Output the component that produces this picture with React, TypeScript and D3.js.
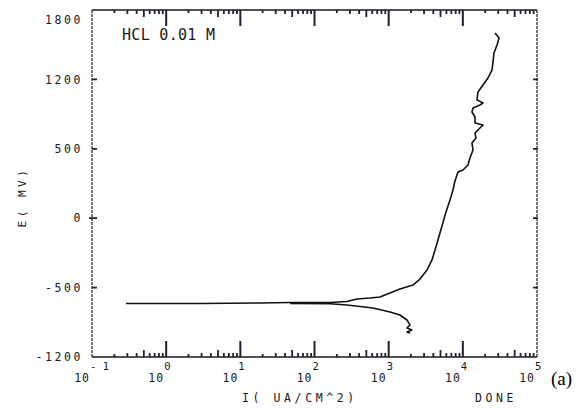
import React from "react";
import * as d3 from "d3";

// ---- data ----
const anodicCurrent = [0.287, 2.86, 18.4, 46.8, 162, 274, 374, 560, 764, 1042, 1422, 2128, 2642, 3289, 3837, 4217, 4920, 5929, 6714, 7362, 7834, 8604, 10050, 11720, 12470, 13710, 13270, 15030, 14590, 17020, 18700, 14590, 14590, 13270, 13710, 17020, 18700, 15520, 16000, 18700, 21830, 24720, 25530, 26300, 28910, 30760, 27160];
const anodicPotential = [-737, -737, -733, -729, -729, -720, -699, -690, -681, -647, -612, -578, -526, -448, -361, -275, -128, 54, 157, 244, 322, 400, 417, 460, 521, 590, 650, 693, 737, 780, 806, 823, 875, 918, 953, 979, 996, 1023, 1091, 1152, 1212, 1281, 1351, 1428, 1498, 1558, 1601];
const cathodicCurrent = [46.8, 162, 274, 615, 1042, 1422, 1766, 1936, 1766, 2061, 1766, 1936];
const cathodicPotential = [-738, -740, -750, -776, -811, -837, -880, -923, -949, -967, -984, -992];

const yTickValues = [-1200, -600, 0, 600, 1200, 1800];
const yTickLabels = ["-1200", "-500", "0", "500", "1200", "1800"];
const xExponents = [-1, 0, 1, 2, 3, 4, 5];
const xExponentLabels = ["- 1", "0", "1", "2", "3", "4", "5"];

const titleText = "HCL 0.01 M";
const xTitle = "I( UA/CM^2)";
const yTitle = "E( MV)";
const doneText = "DONE";
const panelText = "(a)";

const W = 583;
const H = 408;
const ink = "#1a1a1a";
const tickInk = "#202030";
const mono = "'DejaVu Sans Mono', monospace";

export default function App() {
  const x = d3.scaleLog().domain([0.1, 100000]).range([92, 537]);
  const y = d3.scaleLinear().domain([-1200, 1800]).range([357, 10]);
  const [x0, x1] = x.range();
  const [yb, yt] = y.range();

  const line = d3
    .line<[number, number]>()
    .x((d) => x(d[0]))
    .y((d) => y(d[1]))
    .curve(d3.curveLinear);

  const anodic = anodicCurrent.map((c, i) => [c, anodicPotential[i]] as [number, number]);
  const cathodic = cathodicCurrent.map((c, i) => [c, cathodicPotential[i]] as [number, number]);

  let tickD = "";
  xExponents.slice(1, -1).forEach((e) => {
    const px = x(Math.pow(10, e));
    tickD += `M${px},${yb}V${yb - 16}M${px},${yt}V${yt + 16}`;
  });
  let minorD = "";
  for (let e = -1; e < 5; e++) {
    for (let m = 2; m <= 9; m++) {
      const px = x(m * Math.pow(10, e));
      const l = m === 2 ? 3 : m === 5 ? 7 : 4;
      minorD += `M${px},${yb}V${yb - l}M${px},${yt}V${yt + l}`;
    }
  }
  let yD = "";
  yTickValues.slice(1, -1).forEach((v) => {
    const py = y(v);
    yD += `M${x0 - (v === 0 ? 3 : 0)},${py}H${x0 + 5}M${x1 - 4},${py}H${x1 + 1}`;
  });

  return (
    <svg width={W} height={H} style={{ position: "absolute", left: 0, top: 0, background: "#fff" }}>
      {/* axes frame */}
      <line x1={x0} x2={x1} y1={yb} y2={yb} stroke={ink} strokeWidth={1.3} />
      <line x1={x0} x2={x1} y1={yt} y2={yt} stroke={ink} strokeWidth={1.3} />
      <line x1={x0} x2={x0} y1={yt} y2={yb} stroke={ink} strokeWidth={1.2} strokeDasharray="3 1" />
      <line x1={x1} x2={x1} y1={yt} y2={yb} stroke={ink} strokeWidth={1.2} strokeDasharray="3 1" />

      <path d={tickD} fill="none" stroke={tickInk} strokeWidth={2} />
      <path d={minorD} fill="none" stroke={tickInk} strokeWidth={1.8} />
      <path d={yD} fill="none" stroke={tickInk} strokeWidth={1.8} />

      {/* y tick labels */}
      {yTickValues.map((v, i) => (
        <text
          key={"yl" + v}
          x={83}
          y={i === yTickValues.length - 1 ? 20 : y(v)}
          dy="0.36em"
          textAnchor="end"
          fontFamily={mono}
          fontSize={11.5}
          letterSpacing={2.6}
          fill={ink}
        >
          {yTickLabels[i]}
        </text>
      ))}

      {/* x tick labels 10^n */}
      {xExponents.map((e, i) => {
        const px = x(Math.pow(10, e));
        return (
          <g key={"xl" + e} fontFamily={mono} fill={ink}>
            <text x={px - 2} y={382} textAnchor="end" fontSize={11.5} letterSpacing={1}>
              10
            </text>
            <text x={px - 2} y={370} textAnchor="start" fontSize={10.5}>
              {xExponentLabels[i]}
            </text>
          </g>
        );
      })}

      {/* curves */}
      <path d={line(anodic) ?? ""} fill="none" stroke="#111" strokeWidth={1.6} strokeLinejoin="round" />
      <path d={line(cathodic) ?? ""} fill="none" stroke="#111" strokeWidth={1.6} strokeLinejoin="round" />

      {/* texts */}
      <text x={122} y={40} fontFamily={mono} fontSize={15} fill={ink} letterSpacing={0.3}>
        {titleText}
      </text>
      <text
        transform={`translate(26, ${197}) rotate(-90)`}
        textAnchor="middle"
        fontFamily={mono}
        fontSize={11}
        letterSpacing={3.5}
        fill={ink}
      >
        {yTitle}
      </text>
      <text x={242} y={402} fontFamily={mono} fontSize={11.5} letterSpacing={3.6} fill={ink}>
        {xTitle}
      </text>
      <text x={475} y={402} fontFamily={mono} fontSize={11.5} letterSpacing={3.6} fill={ink}>
        {doneText}
      </text>
      <text x={551} y={385} fontFamily="'Liberation Serif', 'Times New Roman', serif" fontSize={19} fill="#000">
        {panelText}
      </text>
    </svg>
  );
}
